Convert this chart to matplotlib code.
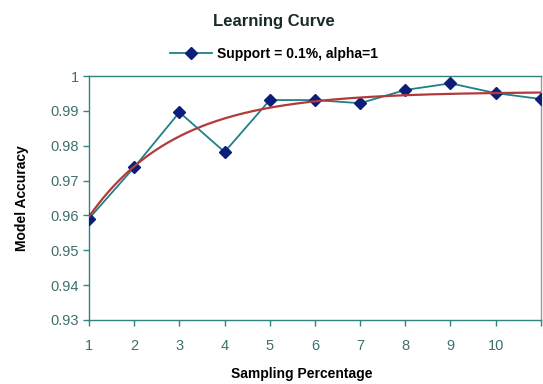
import numpy as np
import matplotlib
matplotlib.use("Agg")
import matplotlib.pyplot as plt

# data
sampling = [1, 2, 3, 4, 5, 6, 7, 8, 9, 10, 11]
accuracy = [0.9591, 0.9738, 0.9896, 0.9782, 0.9931, 0.9931, 0.9922, 0.9960, 0.9979, 0.9951, 0.9934]
ytick_vals = [0.93, 0.94, 0.95, 0.96, 0.97, 0.98, 0.99, 1.0]
ytick_labels = ["0.93", "0.94", "0.95", "0.96", "0.97", "0.98", "0.99", "1"]
xtick_labels = ["1", "2", "3", "4", "5", "6", "7", "8", "9", "10", ""]

plt.rcParams["font.family"] = ["Liberation Sans", "DejaVu Sans"]

x = np.array(sampling, dtype=float)
y = np.array(accuracy)

# saturating exponential trend fitted to the data: y = a - b*exp(-c*x)
best = None
for c in np.linspace(0.2, 1.5, 261):
    A = np.column_stack([np.ones_like(x), -np.exp(-c * x)])
    coef, *_ = np.linalg.lstsq(A, y, rcond=None)
    err = np.sum((A @ coef - y) ** 2)
    if best is None or err < best[0]:
        best = (err, c, coef)
_, c, (a, b) = best
xs = np.linspace(x.min(), x.max(), 200)
trend = a - b * np.exp(-c * xs)

fig = plt.figure(figsize=(5.43, 3.84), dpi=100)
ax = fig.add_axes([0.164, 0.167, 0.832, 0.635])

axis_col = "#2f8480"
ax.plot(x, y, color="#207f88", lw=1.3, marker="D", ms=6,
        mfc="#0b1f7a", mec="#0b1f7a", zorder=3,
        label="Support = 0.1%, alpha=1")
ax.plot(xs, trend, color="#b23a3a", lw=1.6, zorder=4)

ax.set_xlim(1, 11)
ax.set_ylim(0.93, 1.0)
ax.set_xticks(sampling)
ax.set_xticklabels(xtick_labels)
ax.set_yticks(ytick_vals)
ax.set_yticklabels(ytick_labels)
ax.tick_params(direction="out", length=4, width=1, colors=axis_col,
               labelsize=10.5, labelcolor="#3f6f6c")
ax.tick_params(axis="x", pad=10)
for s in ax.spines.values():
    s.set_color(axis_col)
    s.set_linewidth(1)
ax.spines["right"].set_color("#999999")

ax.set_xlabel("Sampling Percentage", fontsize=10, fontweight="bold")
ax.xaxis.set_label_coords(0.47, -0.195)
ax.set_ylabel("Model Accuracy", fontsize=10, fontweight="bold", labelpad=15)

fig.text(0.505, 0.943, "Learning Curve", ha="center", va="center",
         fontsize=12, fontweight="bold", color="#1a2a2a")
leg = fig.legend(loc="center", bbox_to_anchor=(0.505, 0.859), frameon=False,
                 prop={"size": 10, "weight": "bold"}, handlelength=3,
                 borderaxespad=0, handletextpad=0.4)

fig.savefig("out.png", dpi=100)
